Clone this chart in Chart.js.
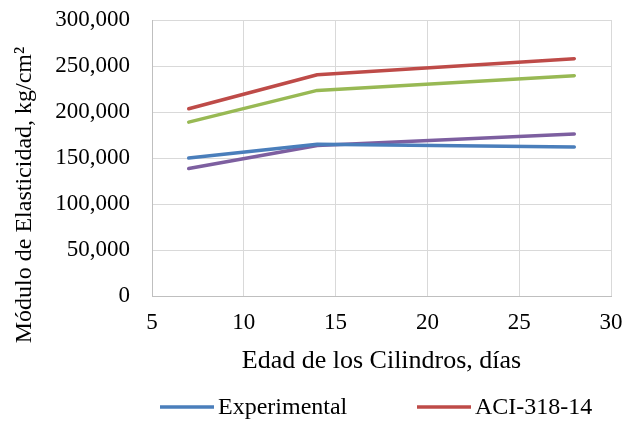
<!DOCTYPE html>
<html>
<head>
<meta charset="utf-8">
<script src="https://cdn.jsdelivr.net/npm/chart.js@4/dist/chart.umd.min.js"></script>
<style>
  html, body { margin: 0; padding: 0; background: #ffffff; }
  #wrap { width: 624px; height: 421px; }
</style>
</head>
<body>
<div id="wrap"><canvas id="c" width="624" height="421"></canvas></div>
<script>
// ---- data ----
const days = [7, 14, 28];
const experimental = [150000, 165000, 162000];
const aci31814 = [203500, 240500, 258000];
const serie3 = [189000, 223500, 239500];
const serie4 = [138500, 163500, 176000];
const seriesNames = ["Experimental", "ACI-318-14", "Serie 3", "Serie 4"];
const legendShown = ["Experimental", "ACI-318-14"];
const xTitle = "Edad de los Cilindros, días";
const yTitle = "Módulo de Elasticidad, kg/cm²";
const xTickValues = [5, 10, 15, 20, 25, 30];
const yTickValues = [0, 50000, 100000, 150000, 200000, 250000, 300000];

// ---- style ----
const FONT = '"Liberation Serif", "Times New Roman", serif';
const colors = ["#4A7EBB", "#BE4B48", "#98B954", "#7D5FA0"];

function pts(vals) { return days.map((d, i) => ({ x: d, y: vals[i] })); }
const allVals = [experimental, aci31814, serie3, serie4];

const datasets = allVals.map((v, i) => ({
  label: seriesNames[i],
  data: pts(v),
  borderColor: colors[i],
  backgroundColor: colors[i],
  borderWidth: 3.5,
  borderCapStyle: 'round',
  borderJoinStyle: 'round',
  pointRadius: 0,
  tension: 0,
  fill: false
}));

const customLegend = {
  id: 'customLegend',
  afterDraw(chart) {
    const ctx = chart.ctx;
    const starts = [160, 417];
    const y = 407;
    ctx.save();
    ctx.font = '24px ' + FONT;
    ctx.textBaseline = 'middle';
    ctx.textAlign = 'left';
    legendShown.forEach((name, k) => {
      const ds = chart.data.datasets.find(d => d.label === name);
      const x0 = starts[k];
      ctx.strokeStyle = ds.borderColor;
      ctx.lineWidth = 3.5;
      ctx.lineCap = 'butt';
      ctx.beginPath();
      ctx.moveTo(x0, y);
      ctx.lineTo(x0 + 54, y);
      ctx.stroke();
      ctx.fillStyle = '#000000';
      ctx.fillText(name, x0 + 58, y + 1);
    });
    ctx.restore();
  }
};

const yTitlePlugin = {
  id: 'yTitlePlugin',
  afterDraw(chart) {
    const ctx = chart.ctx;
    ctx.save();
    ctx.translate(24.5, 195);
    ctx.rotate(-Math.PI / 2);
    ctx.font = '24px ' + FONT;
    ctx.fillStyle = '#000000';
    ctx.textAlign = 'center';
    ctx.textBaseline = 'middle';
    ctx.fillText(yTitle, 0, 0);
    ctx.restore();
  }
};

new Chart(document.getElementById('c'), {
  type: 'line',
  data: { datasets },
  options: {
    responsive: false,
    devicePixelRatio: 1,
    animation: false,
    layout: { padding: { top: 20, right: 13, left: 0, bottom: 44 } },
    plugins: {
      legend: { display: false },
      tooltip: { enabled: false },
      title: { display: false }
    },
    scales: {
      x: {
        type: 'linear',
        min: 5, max: 30,
        afterBuildTicks(scale) { scale.ticks = xTickValues.map(v => ({ value: v })); },
        afterFit(scale) {
          scale.height = 81;
          scale.paddingLeft = 0; scale.paddingRight = 0;
        },
        ticks: {
          font: { family: FONT, size: 23 },
          color: '#000000',
          padding: 13,
          maxRotation: 0,
          callback: v => String(v)
        },
        grid: { color: '#D9D9D9', lineWidth: 1, drawTicks: false },
        border: { color: '#BFBFBF', width: 1 },
        title: {
          display: true,
          text: xTitle,
          font: { family: FONT, size: 26 },
          color: '#000000',
          padding: { top: 0, bottom: 0 }
        }
      },
      y: {
        type: 'linear',
        min: 0, max: 300000,
        afterBuildTicks(scale) { scale.ticks = yTickValues.map(v => ({ value: v })); },
        afterFit(scale) {
          scale.width = 152;
          scale.paddingTop = 0; scale.paddingBottom = 0;
        },
        ticks: {
          font: { family: FONT, size: 23 },
          color: '#000000',
          padding: 22,
          callback: v => v.toLocaleString('en-US')
        },
        grid: { color: '#D9D9D9', lineWidth: 1, drawTicks: false },
        border: { color: '#BFBFBF', width: 1 },
        title: { display: false }
      }
    }
  },
  plugins: [customLegend, yTitlePlugin]
});
</script>
</body>
</html>
